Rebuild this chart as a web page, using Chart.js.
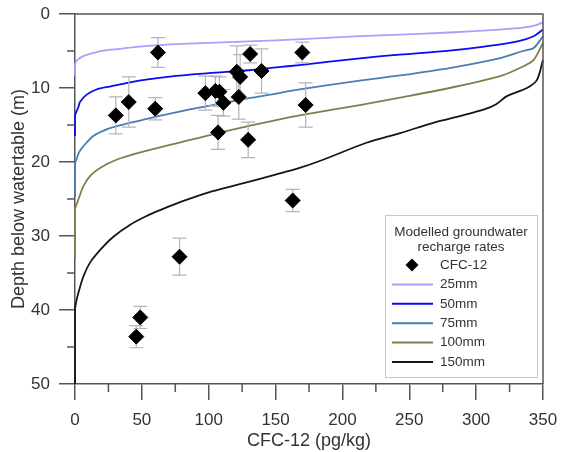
<!DOCTYPE html>
<html>
<head>
    <title>CFC-12 depth profiles</title>
    <script src="https://cdn.jsdelivr.net/npm/chart.js"></script>
    <style>
        body { margin: 0; background: #fff; }
        #wrap { width: 561px; height: 452px; }
    </style>
</head>
<body>
    <div id="wrap"><canvas id="cfcChart" width="561" height="452"></canvas></div>

    <script>
        // Measured CFC-12 samples (pg/kg) with depth (m) and depth uncertainty (m)
        const cfcX     = [30.5, 40.2, 60, 62, 97.5, 105, 108, 111, 107, 121, 123.5, 122.5, 129.5, 131, 139.5, 170, 172.5, 162.8, 78.2, 48.8, 45.8];
        const cfcDepth = [13.7, 11.9, 12.8, 5.2, 10.7, 10.4, 10.5, 12.0, 16.0, 7.8, 8.5, 11.2, 17.0, 5.4, 7.7, 5.2, 12.3, 25.2, 32.8, 41.0, 43.6];
        const cfcErr   = [2.5, 3.4, 1.5, 2.0, 2.3, 2.0, 2.0, 1.8, 2.3, 3.5, 3.0, 3.0, 2.4, 1.2, 3.0, 1.4, 3.0, 1.5, 2.5, 1.5, 1.5];

        // Modelled profiles for each recharge rate
        const curve25X     = [0, 0, 1, 2.5, 6.2, 11.2, 21, 34, 48, 80, 130, 170, 213, 243, 280, 318, 335, 345, 350];
        const curve25Depth = [8.3, 6.8, 6.4, 6.1, 5.7, 5.4, 4.95, 4.7, 4.4, 4.05, 3.7, 3.4, 3.0, 2.8, 2.5, 2.1, 1.85, 1.5, 1.1];

        const curve50X     = [0, 0, 1, 2.3, 3.7, 8.7, 16, 26, 48, 71, 100, 130, 154, 168, 213, 243, 280, 306, 331, 343, 350];
        const curve50Depth = [16.5, 13.8, 13.2, 12.7, 11.9, 10.9, 10.2, 9.8, 9.0, 8.45, 8.0, 7.6, 7.15, 6.9, 6.0, 5.5, 4.95, 4.4, 3.7, 3.0, 2.1];

        const curve75X     = [0, 0, 1.2, 3, 6.2, 13.7, 23.7, 36, 48.7, 60, 79, 96, 131, 146, 168, 213, 243, 280, 318, 335, 343, 350];
        const curve75Depth = [24.7, 20.2, 19.6, 18.7, 17.9, 16.5, 15.6, 14.95, 14.4, 13.9, 13.15, 12.55, 11.35, 10.9, 10.2, 9.0, 8.3, 7.3, 5.95, 5.0, 4.6, 3.0];

        const curve100X     = [0, 0, 1, 2.5, 6.2, 11.2, 18.7, 31, 49, 71, 79, 100, 131, 154, 168, 213, 243, 280, 318, 335, 343, 350];
        const curve100Depth = [33, 26.4, 25.8, 25.1, 23.3, 21.9, 20.8, 19.7, 18.7, 17.7, 17.35, 16.4, 15.1, 14.2, 13.7, 12.3, 11.3, 10.0, 8.4, 7.1, 6.2, 3.9];

        const curve150X     = [0, 0, 1, 2.5, 6.2, 11.2, 18.7, 28.7, 41, 53.5, 63.7, 79, 100, 121, 150, 168, 184, 218, 243, 268, 290, 306, 315, 323, 338, 345.5, 350];
        const curve150Depth = [50, 40, 38.8, 37.7, 35.5, 33.6, 31.9, 30.1, 28.5, 27.3, 26.5, 25.4, 24.1, 23.1, 21.7, 20.8, 19.8, 17.4, 16.1, 14.7, 13.7, 12.9, 12.2, 11.1, 10.0, 8.9, 6.2];

        const legendTitle = ['Modelled groundwater', 'recharge rates'];
        const xTitle = 'CFC-12 (pg/kg)';
        const yTitle = 'Depth below watertable (m)';

        const FONT = 'Arial, "Liberation Sans", sans-serif';
        const AXIS = '#555';
        const TEXT = '#333';

        const toPoints = (xs, ys) => xs.map((x, i) => ({ x: x, y: ys[i] }));

        const curveSet = (label, xs, ys, color) => ({
            type: 'line',
            label: label,
            data: toPoints(xs, ys),
            borderColor: color,
            backgroundColor: color,
            borderWidth: 1.8,
            pointRadius: 0,
            tension: 0.3,
            fill: false,
            clip: 3,
            order: 1
        });

        // keep tick labels from pushing the plot area around
        const noOverflow = (scale) => {
            scale.paddingLeft = 0;
            scale.paddingRight = 0;
            scale.paddingTop = 0;
            scale.paddingBottom = 0;
        };

        // error bars under the diamonds, drawn through the chart scales
        const errorBars = {
            id: 'errorBars',
            beforeDatasetDraw(chart, args) {
                if (args.index !== 0) return;
                const { ctx, scales: { x, y } } = chart;
                ctx.save();
                ctx.strokeStyle = '#b5b5b5';
                ctx.lineWidth = 1.2;
                cfcX.forEach((v, i) => {
                    const px = x.getPixelForValue(v);
                    const top = y.getPixelForValue(cfcDepth[i] - cfcErr[i]);
                    const bot = y.getPixelForValue(cfcDepth[i] + cfcErr[i]);
                    ctx.beginPath();
                    ctx.moveTo(px, top); ctx.lineTo(px, bot);
                    ctx.moveTo(px - 7, top); ctx.lineTo(px + 7, top);
                    ctx.moveTo(px - 7, bot); ctx.lineTo(px + 7, bot);
                    ctx.stroke();
                });
                ctx.restore();
            }
        };

        // top/right frame plus the short minor ticks
        const frame = {
            id: 'frame',
            afterDraw(chart) {
                const { ctx, chartArea: a, scales: { x, y } } = chart;
                ctx.save();
                ctx.strokeStyle = AXIS;
                ctx.lineWidth = 1.5;
                ctx.beginPath();
                ctx.moveTo(a.left, a.top); ctx.lineTo(a.right, a.top); ctx.lineTo(a.right, a.bottom);
                for (let v = 25; v < 350; v += 50) {
                    const px = x.getPixelForValue(v);
                    ctx.moveTo(px, a.bottom); ctx.lineTo(px, a.bottom + 8);
                }
                for (let v = 5; v < 50; v += 10) {
                    const py = y.getPixelForValue(v);
                    ctx.moveTo(a.left - 8, py); ctx.lineTo(a.left, py);
                }
                ctx.stroke();
                ctx.restore();
            }
        };

        // boxed legend in the lower right corner of the plot
        const boxLegend = {
            id: 'boxLegend',
            afterDraw(chart) {
                const { ctx, chartArea: a } = chart;
                const w = 152, h = 162;
                const left = a.right - 6 - w, top = a.bottom - 7 - h;
                ctx.save();
                ctx.fillStyle = '#fff';
                ctx.fillRect(left, top, w, h);
                ctx.strokeStyle = '#c8c8c8';
                ctx.lineWidth = 1;
                ctx.strokeRect(left + 0.5, top + 0.5, w, h);

                ctx.fillStyle = TEXT;
                ctx.font = '13.5px ' + FONT;
                ctx.textAlign = 'center';
                ctx.textBaseline = 'middle';
                ctx.fillText(legendTitle[0], left + w / 2, top + 17);
                ctx.fillText(legendTitle[1], left + w / 2, top + 32);

                ctx.textAlign = 'left';
                chart.data.datasets.forEach((ds, i) => {
                    const ly = top + 50 + i * 19.4;
                    if (i === 0) {
                        ctx.fillStyle = '#000';
                        ctx.beginPath();
                        ctx.moveTo(left + 27, ly - 6.5);
                        ctx.lineTo(left + 33.5, ly);
                        ctx.lineTo(left + 27, ly + 6.5);
                        ctx.lineTo(left + 20.5, ly);
                        ctx.closePath();
                        ctx.fill();
                    } else {
                        ctx.strokeStyle = ds.borderColor;
                        ctx.lineWidth = 2;
                        ctx.beginPath();
                        ctx.moveTo(left + 7, ly);
                        ctx.lineTo(left + 48, ly);
                        ctx.stroke();
                    }
                    ctx.fillStyle = TEXT;
                    ctx.fillText(ds.label, left + 55, ly);
                });
                ctx.restore();
            }
        };

        const ctx = document.getElementById('cfcChart').getContext('2d');
        new Chart(ctx, {
            type: 'scatter',
            data: {
                datasets: [
                    {
                        type: 'scatter',
                        label: 'CFC-12',
                        data: toPoints(cfcX, cfcDepth),
                        pointStyle: 'rectRot',
                        pointRadius: 7.5,
                        backgroundColor: '#000',
                        borderColor: '#000',
                        borderWidth: 1,
                        clip: false,
                        order: 0
                    },
                    curveSet('25mm', curve25X, curve25Depth, '#a3a3ff'),
                    curveSet('50mm', curve50X, curve50Depth, '#0a0af5'),
                    curveSet('75mm', curve75X, curve75Depth, '#4a7db3'),
                    curveSet('100mm', curve100X, curve100Depth, '#7f7f4c'),
                    curveSet('150mm', curve150X, curve150Depth, '#151515')
                ]
            },
            options: {
                responsive: false,
                animation: false,
                layout: { padding: { top: 14, right: 18, left: 0, bottom: 0 } },
                plugins: {
                    legend: { display: false },
                    tooltip: { enabled: false }
                },
                scales: {
                    x: {
                        type: 'linear',
                        min: 0,
                        max: 350,
                        afterFit(scale) { scale.height = 68; noOverflow(scale); },
                        ticks: {
                            stepSize: 50,
                            maxRotation: 0,
                            autoSkip: false,
                            padding: 10,
                            color: TEXT,
                            font: { family: FONT, size: 17 }
                        },
                        grid: {
                            drawOnChartArea: false,
                            drawTicks: true,
                            tickLength: 16,
                            tickColor: AXIS,
                            lineWidth: 1.5
                        },
                        border: { color: AXIS, width: 1.5 },
                        title: {
                            display: true,
                            text: xTitle,
                            color: TEXT,
                            padding: { top: 0, bottom: 0 },
                            font: { family: FONT, size: 18 }
                        }
                    },
                    y: {
                        type: 'linear',
                        reverse: true,
                        min: 0,
                        max: 50,
                        afterFit(scale) { scale.width = 75; noOverflow(scale); },
                        ticks: {
                            stepSize: 10,
                            padding: 9,
                            color: TEXT,
                            font: { family: FONT, size: 17 }
                        },
                        grid: {
                            drawOnChartArea: false,
                            drawTicks: true,
                            tickLength: 16,
                            tickColor: AXIS,
                            lineWidth: 1.5
                        },
                        border: { color: AXIS, width: 1.5 },
                        title: {
                            display: true,
                            text: yTitle,
                            color: TEXT,
                            padding: { top: 8, bottom: 0 },
                            font: { family: FONT, size: 18 }
                        }
                    }
                }
            },
            plugins: [errorBars, frame, boxLegend]
        });
    </script>
</body>
</html>
